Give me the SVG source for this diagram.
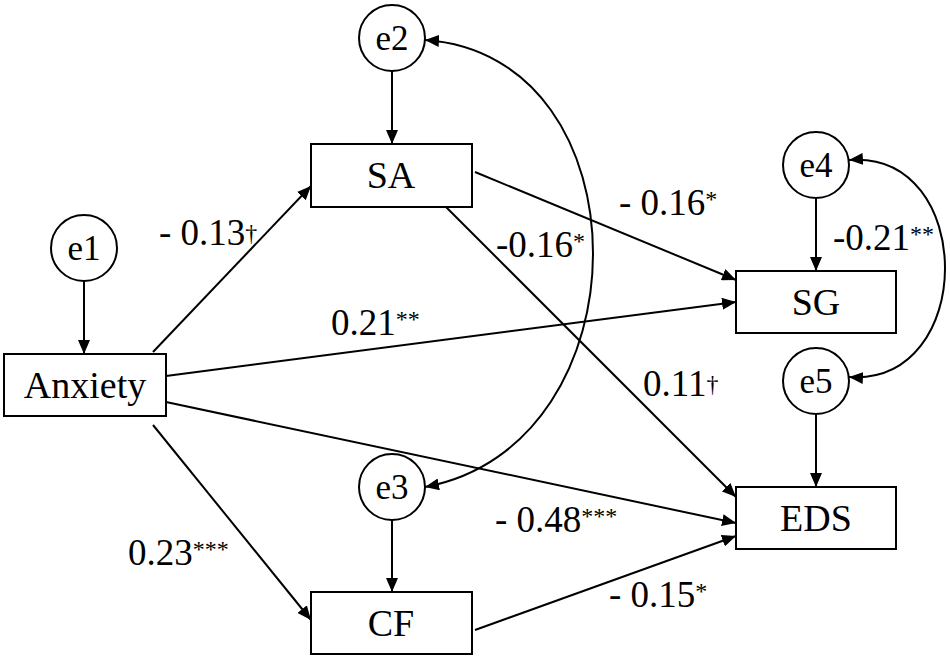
<svg xmlns="http://www.w3.org/2000/svg" width="950" height="660" viewBox="0 0 950 660">
<defs>
<style>
.box{fill:#fff;stroke:#000;stroke-width:2}
.circ{fill:#fff;stroke:#000;stroke-width:2}
.ln{fill:none;stroke:#000;stroke-width:2}
.arr{marker-end:url(#ah)}
.bi{marker-start:url(#ah);marker-end:url(#ah)}
text{font-family:'Liberation Serif','DejaVu Serif',serif;fill:#000}
.nt{font-size:38px;text-anchor:middle}
.et{font-size:35px;text-anchor:middle}
.lb{font-size:37px}
.sup{font-size:24px}
</style>
<marker id="ah" markerUnits="userSpaceOnUse" markerWidth="14" markerHeight="12" viewBox="0 0 14 12" refX="14" refY="6" orient="auto-start-reverse">
<path d="M0,0 L14,6 L0,12 z" fill="#000"/>
</marker>
</defs>
<rect width="950" height="660" fill="#fff"/>
<g id="connectors">
<line class="ln arr" x1="84" y1="281" x2="84" y2="354"/>
<line class="ln arr" x1="392" y1="71" x2="392" y2="144"/>
<line class="ln arr" x1="392" y1="520" x2="392" y2="592"/>
<line class="ln arr" x1="816" y1="198" x2="816" y2="271"/>
<line class="ln arr" x1="816" y1="414" x2="816" y2="487"/>
<line class="ln arr" x1="153" y1="352" x2="311" y2="186"/>
<line class="ln arr" x1="166" y1="376" x2="736" y2="302"/>
<line class="ln arr" x1="166" y1="402" x2="736" y2="523"/>
<line class="ln arr" x1="153" y1="425" x2="311" y2="620"/>
<line class="ln arr" x1="475" y1="172" x2="736" y2="280"/>
<line class="ln arr" x1="446" y1="207" x2="736" y2="497"/>
<line class="ln arr" x1="475" y1="630" x2="736" y2="536"/>
<path class="ln bi" d="M425,40 C649,55 649,445 425,487"/>
<path class="ln bi" d="M849,160 C977,150 977,386 849,377"/>
</g>
<g id="e1"><circle class="circ" cx="84" cy="248" r="33"/><text class="et" x="84" y="260">e1</text></g>
<g id="e2"><circle class="circ" cx="392" cy="38" r="33"/><text class="et" x="392" y="50">e2</text></g>
<g id="e3"><circle class="circ" cx="392" cy="487" r="33"/><text class="et" x="392" y="499">e3</text></g>
<g id="e4"><circle class="circ" cx="816" cy="165" r="33"/><text class="et" x="816" y="177">e4</text></g>
<g id="e5"><circle class="circ" cx="816" cy="381" r="33"/><text class="et" x="816" y="393">e5</text></g>
<g id="Anxiety"><rect class="box" x="4" y="354" width="162" height="62"/><text class="nt" x="85" y="398">Anxiety</text></g>
<g id="SA"><rect class="box" x="311" y="144" width="161" height="63"/><text class="nt" x="391" y="188">SA</text></g>
<g id="CF"><rect class="box" x="311" y="592" width="161" height="62"/><text class="nt" x="391" y="636">CF</text></g>
<g id="SG"><rect class="box" x="736" y="271" width="160" height="62"/><text class="nt" x="816" y="315">SG</text></g>
<g id="EDS"><rect class="box" x="736" y="487" width="160" height="62"/><text class="nt" x="816" y="531">EDS</text></g>
<g id="labels">
<text class="lb" x="159" y="245">- 0.13<tspan class="sup" dy="-4">†</tspan></text>
<text class="lb" x="331" y="335">0.21<tspan class="sup" dy="-8">**</tspan></text>
<text class="lb" x="619" y="215">- 0.16<tspan class="sup" dy="-8">*</tspan></text>
<text class="lb" x="496" y="257">-0.16<tspan class="sup" dy="-8">*</tspan></text>
<text class="lb" x="833" y="250">-0.21<tspan class="sup" dy="-8">**</tspan></text>
<text class="lb" x="643" y="396">0.11<tspan class="sup" dy="-4">†</tspan></text>
<text class="lb" x="495" y="532">- 0.48<tspan class="sup" dy="-8">***</tspan></text>
<text class="lb" x="128" y="565">0.23<tspan class="sup" dy="-8">***</tspan></text>
<text class="lb" x="609" y="607">- 0.15<tspan class="sup" dy="-8">*</tspan></text>
</g>
</svg>
